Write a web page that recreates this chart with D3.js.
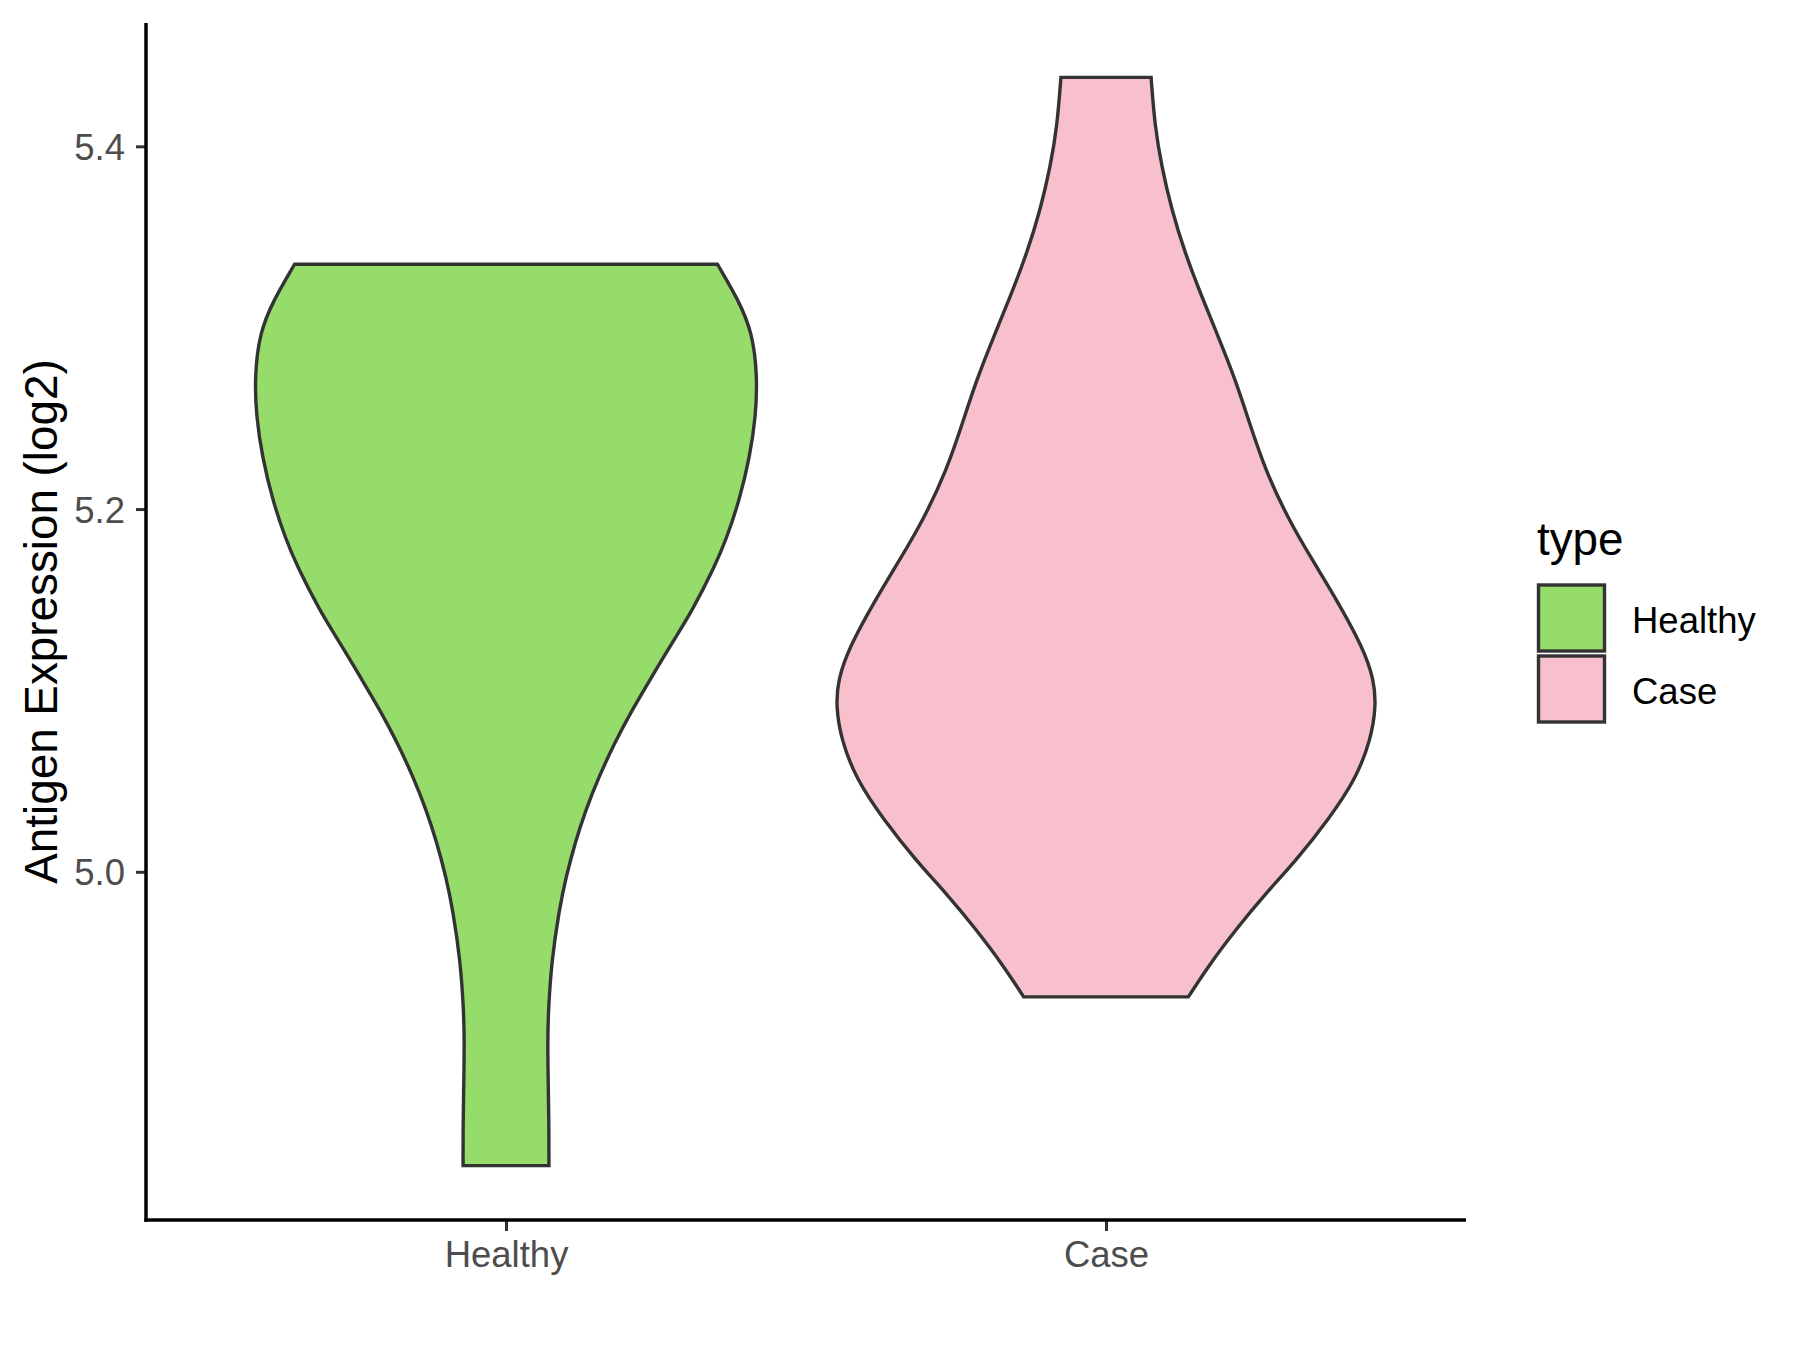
<!DOCTYPE html>
<html lang="en">
<head>
    <meta charset="UTF-8">
    <title>Antigen expression violin</title>
    <style>
        body { margin: 0; background: #fff; }
        text { font-family: "Liberation Sans", Arial, sans-serif; }
    </style>
</head>
<body>
    <script src="https://d3js.org/d3.v7.min.js"></script>
    <script>
        var W = 1800, H = 1350;
        var margin = {top: 23, right: 334, bottom: 130, left: 146};

        // categories and colours
        var categories = ["Healthy", "Case"];
        var fills = ["#95DC6A", "#F8C0CC"];
        var yTicks = [5.0, 5.2, 5.4];

        // violin outlines: expression value and relative width (1 = widest violin)
        var healthyValues = [4.838, 4.859, 4.878, 4.906, 4.924, 4.951, 4.979, 4.997, 5.016, 5.034,
            5.052, 5.071, 5.089, 5.107, 5.126, 5.144, 5.168, 5.183, 5.205, 5.229,
            5.251, 5.273, 5.297, 5.315, 5.335];
        var healthyDensity = [0.159, 0.159, 0.157, 0.154, 0.157, 0.169, 0.197, 0.222, 0.256, 0.295,
            0.343, 0.402, 0.466, 0.538, 0.614, 0.690, 0.772, 0.815, 0.865, 0.903,
            0.925, 0.931, 0.913, 0.862, 0.783];

        var caseValues = [4.931, 4.948, 4.968, 4.988, 5.006, 5.029, 5.051, 5.073, 5.091, 5.106,
            5.124, 5.148, 5.172, 5.194, 5.221, 5.249, 5.271, 5.295, 5.317, 5.341, 5.365, 5.389, 5.411, 5.438];
        var caseDensity = [0.305, 0.379, 0.480, 0.591, 0.703, 0.825, 0.925, 0.981, 1.000, 0.993,
            0.950, 0.862, 0.764, 0.677, 0.591, 0.528, 0.480, 0.416, 0.355, 0.293, 0.243, 0.206, 0.181, 0.167];

        var groups = [
            {name: categories[0], fill: fills[0], values: healthyValues, density: healthyDensity},
            {name: categories[1], fill: fills[1], values: caseValues, density: caseDensity}
        ];

        var svg = d3.select("body").append("svg")
            .attr("width", W)
            .attr("height", H);

        var x = d3.scalePoint()
            .domain(categories)
            .range([margin.left, W - margin.right])
            .padding(0.6);

        var allVals = healthyValues.concat(caseValues);
        var ext = d3.extent(allVals);
        var pad = (ext[1] - ext[0]) * 0.05;
        var y = d3.scaleLinear()
            .domain([ext[0] - pad, ext[1] + pad])
            .range([H - margin.bottom, margin.top]);

        var half = d3.scaleLinear()
            .domain([0, 1])
            .range([0, 0.45 * x.step()]);

        // violins
        groups.forEach(function(g) {
            var cx = x(g.name);
            var pts = g.values.map(function(v, i) { return {v: v, d: g.density[i]}; });
            var right = pts.map(function(p) { return [cx + half(p.d), y(p.v)]; });
            var left = pts.slice().reverse().map(function(p) { return [cx - half(p.d), y(p.v)]; });
            var line = d3.line().curve(d3.curveBasis);
            var path = line(right) + "L" + line(left).slice(1) + "Z";
            svg.append("path")
                .attr("d", path)
                .attr("fill", g.fill)
                .attr("stroke", "#333333")
                .attr("stroke-width", 3.4)
                .attr("stroke-linejoin", "miter");
        });

        // axes
        var yAxis = svg.append("g")
            .attr("transform", "translate(" + margin.left + ",0)")
            .call(d3.axisLeft(y).tickValues(yTicks).tickFormat(d3.format(".1f")).tickSize(10).tickPadding(11));
        yAxis.select(".domain").remove();

        var xAxis = svg.append("g")
            .attr("transform", "translate(0," + (H - margin.bottom) + ")")
            .call(d3.axisBottom(x).tickSize(11).tickPadding(10));
        xAxis.select(".domain").remove();

        [yAxis, xAxis].forEach(function(a) {
            a.selectAll(".tick line").attr("stroke", "#333333").attr("stroke-width", 3);
            a.selectAll(".tick text")
                .attr("fill", "#4D4D4D")
                .style("font-size", "36.5px")
                .style("font-family", "'Liberation Sans', Arial, sans-serif");
        });
        yAxis.selectAll(".tick text").attr("dy", "0.36em");

        svg.append("line")
            .attr("x1", margin.left).attr("x2", margin.left)
            .attr("y1", margin.top).attr("y2", H - margin.bottom + 1.7)
            .attr("stroke", "#000").attr("stroke-width", 3.5);
        svg.append("line")
            .attr("x1", margin.left - 1.7).attr("x2", W - margin.right)
            .attr("y1", H - margin.bottom).attr("y2", H - margin.bottom)
            .attr("stroke", "#000").attr("stroke-width", 3.5);

        // y title
        svg.append("text")
            .attr("transform", "translate(57," + ((margin.top + H - margin.bottom) / 2) + ") rotate(-90)")
            .attr("text-anchor", "middle")
            .style("font-size", "45.8px")
            .attr("fill", "#000")
            .text("Antigen Expression (log2)");

        // legend
        var lg = svg.append("g").attr("transform", "translate(1537,0)");
        lg.append("text")
            .attr("x", 0).attr("y", 555)
            .style("font-size", "45.8px")
            .text("type");
        var keySize = 69;
        groups.forEach(function(g, i) {
            var top = 585 + i * (keySize + 2);
            lg.append("rect")
                .attr("x", 1.5).attr("y", top)
                .attr("width", keySize - 3).attr("height", keySize - 3)
                .attr("fill", g.fill)
                .attr("stroke", "#333333")
                .attr("stroke-width", 3.4);
            lg.append("text")
                .attr("x", 95).attr("y", top + keySize / 2)
                .attr("dy", "0.36em")
                .style("font-size", "36.5px")
                .text(g.name);
        });
    </script>
</body>
</html>
